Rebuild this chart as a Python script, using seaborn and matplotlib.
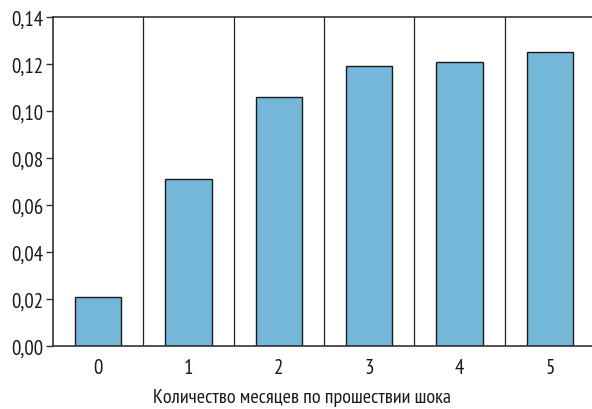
import matplotlib
matplotlib.use("Agg")
import matplotlib.pyplot as plt
import seaborn as sns
import pandas as pd
from matplotlib.ticker import FuncFormatter

months = ["0", "1", "2", "3", "4", "5"]
values = [0.021, 0.071, 0.106, 0.119, 0.121, 0.125]
yticks = [0.00, 0.02, 0.04, 0.06, 0.08, 0.10, 0.12, 0.14]
xlabel = "Количество месяцев по прошествии шока"

sns.set_style("white")
plt.rcParams["font.family"] = ["PT Sans Narrow", "DejaVu Sans"]

df = pd.DataFrame({"m": months, "v": values})
fig = plt.figure(figsize=(5.92, 4.10), dpi=100)
ax = fig.add_axes([53/592, 1 - 347/410, 542/592, (347 - 18)/410])
sns.barplot(data=df, x="m", y="v", ax=ax, color="#74b7d9", saturation=1,
            width=0.51, edgecolor="#1a1a1a", linewidth=1.0)
ax.set_xlim(-0.5, 5.5)
ax.set_ylim(0, 0.14)
for i in range(len(months) - 1):
    ax.axvline(i + 0.5, color="#222222", lw=0.9, zorder=0)
ax.set_yticks(yticks)
ax.yaxis.set_major_formatter(FuncFormatter(lambda v, p: f"{v:.2f}".replace(".", ",")))
for s in ["left", "bottom", "top"]:
    ax.spines[s].set_color("#333333")
    ax.spines[s].set_linewidth(1.2)
ax.spines["right"].set_visible(False)
ax.tick_params(axis="y", left=True, length=5, width=1, color="#333333",
               labelsize=15, pad=2, labelcolor="#1a1a1a")
ax.tick_params(axis="x", bottom=False, labelsize=15, pad=5, labelcolor="#1a1a1a")
ax.set_xlabel(xlabel, fontsize=14.5, color="#1a1a1a")
ax.xaxis.set_label_coords((302 - 53) / 542, -(407 - 347) / 329)
ax.xaxis.label.set_va("bottom")
ax.set_ylabel("")
fig.savefig("out.png", dpi=100)
